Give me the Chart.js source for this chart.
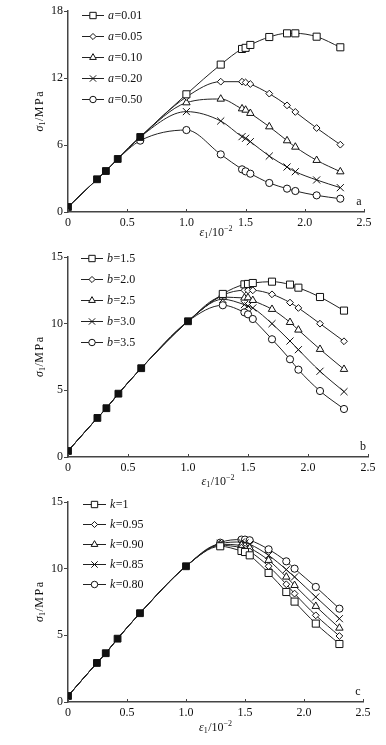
<!DOCTYPE html>
<html>
<head>
<meta charset="utf-8">
<script src="https://cdn.jsdelivr.net/npm/chart.js@4.4.1/dist/chart.umd.min.js"></script>
<style>
  html, body { margin: 0; padding: 0; background: #fff; }
  #wrap { position: relative; width: 386px; height: 745px; overflow: hidden; background: #fff; }
  #wrap canvas { position: absolute; left: 0; }
</style>
</head>
<body>
<div id="wrap">
  <canvas id="chartA" width="386" height="245" style="top:0px"></canvas>
  <canvas id="chartB" width="386" height="245" style="top:245px"></canvas>
  <canvas id="chartC" width="386" height="255" style="top:490px"></canvas>
</div>
<script>
// strain ε1 (10^-2), same sampling for every curve
const strain = [0, 0.245, 0.32, 0.42, 0.61, 1.0, 1.29, 1.47, 1.5, 1.54, 1.70, 1.85, 1.92, 2.10, 2.30];

// panel a : parameter a
const aLabels = ['0.01', '0.05', '0.10', '0.20', '0.50'];
const sharedA = [0.45, 2.93, 3.67, 4.75, 6.72];
const a001 = [0.45, 2.93, 3.67, 4.75, 6.72, 10.54, 13.2, 14.6, 14.7, 14.96, 15.67, 16.0, 16.0, 15.7, 14.75];
const a005 = [0.45, 2.93, 3.67, 4.75, 6.72, 10.3, 11.67, 11.67, 11.6, 11.46, 10.6, 9.55, 8.96, 7.52, 6.03];
const a010 = [0.45, 2.93, 3.67, 4.75, 6.72, 9.79, 10.12, 9.25, 9.13, 8.84, 7.64, 6.39, 5.82, 4.63, 3.61];
const a020 = [0.45, 2.93, 3.67, 4.75, 6.72, 8.99, 8.15, 6.75, 6.6, 6.3, 5.01, 4.03, 3.61, 2.87, 2.18];
const a050 = [0.45, 2.93, 3.67, 4.75, 6.39, 7.34, 5.16, 3.82, 3.64, 3.43, 2.6, 2.09, 1.88, 1.49, 1.19];

// panel b : parameter b
const bLabels = ['1.5', '2.0', '2.5', '3.0', '3.5'];
const sharedB = [0.45, 2.93, 3.66, 4.75, 6.66, 10.18];
const b15 = [0.45, 2.93, 3.66, 4.75, 6.66, 10.18, 12.23, 12.95, 12.98, 13.05, 13.15, 12.93, 12.7, 12.0, 10.98];
const b20 = [0.45, 2.93, 3.66, 4.75, 6.66, 10.18, 12.13, 12.5, 12.5, 12.5, 12.2, 11.58, 11.18, 10.0, 8.68];
const b25 = [0.45, 2.93, 3.66, 4.75, 6.66, 10.18, 12.0, 11.93, 11.95, 11.75, 11.08, 10.1, 9.53, 8.08, 6.58];
const b30 = [0.45, 2.93, 3.66, 4.75, 6.66, 10.18, 11.83, 11.43, 11.33, 11.18, 10.0, 8.7, 8.05, 6.43, 4.9];
const b35 = [0.45, 2.93, 3.66, 4.75, 6.66, 10.18, 11.38, 10.85, 10.7, 10.35, 8.83, 7.33, 6.55, 4.95, 3.6];

// panel c : parameter k
const kLabels = ['1', '0.95', '0.90', '0.85', '0.80'];
const sharedC = [0.45, 2.93, 3.66, 4.75, 6.66, 10.18];
const k100 = [0.45, 2.93, 3.66, 4.75, 6.66, 10.18, 11.68, 11.33, 11.25, 11.0, 9.68, 8.25, 7.53, 5.88, 4.35];
const k095 = [0.45, 2.93, 3.66, 4.75, 6.66, 10.18, 11.75, 11.58, 11.5, 11.3, 10.18, 8.83, 8.13, 6.5, 4.95];
const k090 = [0.45, 2.93, 3.66, 4.75, 6.66, 10.18, 11.83, 11.75, 11.7, 11.55, 10.63, 9.38, 8.75, 7.18, 5.55];
const k085 = [0.45, 2.93, 3.66, 4.75, 6.66, 10.18, 11.88, 12.0, 11.93, 11.83, 11.0, 9.93, 9.38, 7.88, 6.25];
const k080 = [0.45, 2.93, 3.66, 4.75, 6.66, 10.18, 11.95, 12.18, 12.18, 12.13, 11.45, 10.55, 10.0, 8.63, 7.0];

const SERIF = '"Liberation Serif", "Times New Roman", "DejaVu Serif", serif';
const INK = '#222';
const markers = [
  { style: 'rect', r: 5 },
  { style: 'rectRot', r: 3.4 },
  { style: 'triangle', r: 4.3 },
  { style: 'crossRot', r: 5 },
  { style: 'circle', r: 3.6 }
];

function toPoints(ys) {
  return ys.map((y, i) => ({ x: strain[i], y }));
}

// draw text made of pieces (italic letter, subscripts...) centred on x
function drawRich(ctx, pieces, x, y) {
  let total = 0;
  pieces.forEach(p => { ctx.font = p.font; total += ctx.measureText(p.t).width + (p.gap || 0); });
  let cx = x - total / 2;
  ctx.textBaseline = 'middle';
  ctx.textAlign = 'left';
  pieces.forEach(p => {
    ctx.font = p.font;
    ctx.fillText(p.t, cx, y + (p.dy || 0));
    cx += ctx.measureText(p.t).width + (p.gap || 0);
  });
}

const paperDecor = {
  id: 'paperDecor',
  afterDraw(chart, args, opts) {
    const ctx = chart.ctx;
    const area = chart.chartArea;
    const xs = chart.scales.x;
    ctx.save();

    // inward x ticks
    ctx.strokeStyle = '#444';
    ctx.lineWidth = 1;
    xs.ticks.forEach(t => {
      const px = Math.round(xs.getPixelForValue(t.value)) + 0.5;
      ctx.beginPath();
      ctx.moveTo(px, area.bottom);
      ctx.lineTo(px, area.bottom - 3);
      ctx.stroke();
    });

    // legend: short line with marker, then "a=0.01" with italic letter
    const lg = opts.legend;
    chart.data.datasets.forEach(ds => {
      if (ds.legendKey == null) return;
      const y = lg.top + ds.legendKey * lg.gap;
      ctx.strokeStyle = INK;
      ctx.lineWidth = 1;
      ctx.beginPath();
      ctx.moveTo(lg.left, y + 0.5);
      ctx.lineTo(lg.left + lg.len, y + 0.5);
      ctx.stroke();
      ctx.fillStyle = '#fff';
      ctx.strokeStyle = '#111';
      Chart.helpers.drawPoint(ctx, { pointStyle: ds.pointStyle, radius: ds.legendRadius, borderWidth: 1, rotation: 0 },
        lg.left + lg.len / 2, y + 0.5);
      ctx.fillStyle = '#111';
      ctx.textBaseline = 'middle';
      ctx.textAlign = 'left';
      ctx.font = 'italic 12px ' + SERIF;
      const w = ctx.measureText(opts.param).width;
      ctx.fillText(opts.param, lg.textX, y + 1);
      ctx.font = '12px ' + SERIF;
      ctx.fillText('=' + ds.label, lg.textX + w + 0.5, y + 1);
    });

    ctx.fillStyle = '#111';
    // x title  ε1/10^-2
    drawRich(ctx, [
      { t: 'ε', font: 'italic 12px ' + SERIF },
      { t: '1', font: '8px ' + SERIF, dy: 3, gap: 0.5 },
      { t: '/10', font: '12px ' + SERIF },
      { t: '−2', font: '8px ' + SERIF, dy: -4 }
    ], (area.left + area.right) / 2, opts.xTitleY);

    // y title  σ1/MPa
    ctx.save();
    ctx.translate(opts.yTitleX, (area.top + area.bottom) / 2);
    ctx.rotate(-Math.PI / 2);
    drawRich(ctx, [
      { t: 'σ', font: 'italic 12px ' + SERIF },
      { t: '1', font: '8px ' + SERIF, dy: 3, gap: 0.5 },
      { t: '/', font: '12px ' + SERIF, gap: 0.5 },
      { t: 'M', font: '12px ' + SERIF, gap: 1.5 },
      { t: 'P', font: '12px ' + SERIF, gap: 1.5 },
      { t: 'a', font: '12px ' + SERIF }
    ], 0, 0);
    ctx.restore();

    // panel letter
    ctx.font = '12px ' + SERIF;
    ctx.textAlign = 'center';
    ctx.textBaseline = 'middle';
    ctx.fillText(opts.letter, area.right - 5, area.bottom - 10);

    ctx.restore();
  }
};

function buildPanel(id, cfg) {
  const datasets = [{
    label: 'shared',
    data: toPoints(cfg.shared),
    showLine: false,
    pointStyle: 'rect',
    pointRadius: 4.8,
    backgroundColor: '#111',
    borderColor: '#111',
    borderWidth: 1
  }];

  cfg.series.forEach((ys, i) => {
    const m = markers[i];
    datasets.push({
      label: cfg.labels[i],
      legendKey: i,
      legendRadius: m.r * 0.9,
      data: toPoints(ys),
      borderColor: INK,
      borderWidth: 1,
      cubicInterpolationMode: 'monotone',
      pointStyle: m.style,
      // hide the marker where the curve sits on the common black squares
      pointRadius: ctx => {
        const j = ctx.dataIndex;
        if (j < cfg.shared.length && Math.abs(ys[j] - cfg.shared[j]) < 0.05) return 0;
        return m.r;
      },
      pointBackgroundColor: '#fff',
      pointBorderColor: '#111',
      pointBorderWidth: 1,
      fill: false
    });
  });

  return new Chart(document.getElementById(id), {
    type: 'line',
    data: { datasets },
    plugins: [paperDecor],
    options: {
      responsive: false,
      animation: false,
      devicePixelRatio: 1,
      layout: { padding: { top: cfg.padTop, right: cfg.padRight, left: 0, bottom: 0 } },
      plugins: {
        legend: { display: false },
        tooltip: { enabled: false },
        paperDecor: {
          legend: cfg.legend,
          param: cfg.param,
          letter: cfg.letter,
          xTitleY: cfg.xTitleY,
          yTitleX: 40
        }
      },
      scales: {
        x: {
          type: 'linear',
          min: 0,
          max: 2.5,
          afterFit: s => { s.height = cfg.xHeight; },
          ticks: { stepSize: 0.5, color: '#111', padding: 4, font: { family: SERIF, size: 12 } },
          grid: { display: false, drawTicks: false },
          border: { color: '#444', width: 1.5 }
        },
        y: {
          min: 0,
          max: cfg.yMax,
          afterFit: s => { s.width = 68; },
          ticks: { stepSize: cfg.yStep, color: '#111', padding: 1, font: { family: SERIF, size: 12 } },
          grid: { drawOnChartArea: false, tickLength: 4, color: '#444', lineWidth: 1 },
          border: { color: '#444', width: 1.5 }
        }
      }
    }
  });
}

buildPanel('chartA', {
  shared: sharedA, series: [a001, a005, a010, a020, a050], labels: aLabels, param: 'a', letter: 'a',
  yMax: 18, yStep: 6, padTop: 11, padRight: 22, xHeight: 33, xTitleY: 233,
  legend: { left: 82, len: 22, textX: 108, top: 15, gap: 21 }
});
buildPanel('chartB', {
  shared: sharedB, series: [b15, b20, b25, b30, b35], labels: bLabels, param: 'b', letter: 'b',
  yMax: 15, yStep: 5, padTop: 12, padRight: 18, xHeight: 33, xTitleY: 237,
  legend: { left: 81, len: 22, textX: 107, top: 13, gap: 21 }
});
buildPanel('chartC', {
  shared: sharedC, series: [k100, k095, k090, k085, k080], labels: kLabels, param: 'k', letter: 'c',
  yMax: 15, yStep: 5, padTop: 12, padRight: 23, xHeight: 43, xTitleY: 238,
  legend: { left: 83, len: 23, textX: 110, top: 14, gap: 20 }
});
</script>
</body>
</html>
